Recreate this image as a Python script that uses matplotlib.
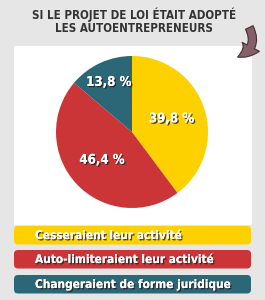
import matplotlib
matplotlib.use("Agg")
import matplotlib.pyplot as plt
import matplotlib.patheffects as pe
from matplotlib.patches import FancyBboxPatch, Rectangle, FancyArrowPatch
import numpy as np

# --- données ---
titre = ["SI LE PROJET DE LOI ÉTAIT ADOPTÉ", "LES AUTOENTREPRENEURS"]
categories = ["Cesseraient leur activité",
              "Auto-limiteraient leur activité",
              "Changeraient de forme juridique"]
valeurs = [39.8, 46.4, 13.8]
etiquettes = ["39,8 %", "46,4 %", "13,8 %"]
couleurs = ["#FDD000", "#CC3538", "#2B6777"]

police = dict(family="DejaVu Sans", stretch="condensed", fontweight="bold")

W, H = 265, 300
fig = plt.figure(figsize=(W / 100, H / 100), dpi=100)
fig.patch.set_facecolor("#E6E6E6")

# axe de fond en pixels (origine en haut à gauche)
bg = fig.add_axes([0, 0, 1, 1])
bg.set_xlim(0, W)
bg.set_ylim(H, 0)
bg.axis("off")

for i, ligne in enumerate(titre):
    bg.text(134, 15 + i * 13, ligne, ha="center", va="center",
            fontsize=8.3, color="#333333", **police)

# panneau blanc
bg.add_patch(Rectangle((14, 46), 238, 179, facecolor="white", edgecolor="none"))

# flèche courbe
fleche = FancyArrowPatch((248, 25), (235, 58), connectionstyle="arc3,rad=-0.6",
                         arrowstyle="simple,head_width=14,head_length=12,tail_width=6",
                         facecolor="#84606A", edgecolor="#4A2E30", linewidth=0.8)
bg.add_patch(fleche)

# légende en boîtes arrondies
ombre = [pe.withSimplePatchShadow(offset=(1, -1), shadow_rgbFace="#222222", alpha=0.8),
         pe.Normal()]
tops = [226, 250, 275]
for top, cat, col in zip(tops, categories, couleurs):
    bg.add_patch(FancyBboxPatch((14, top), 237, 18.5,
                                boxstyle="round,pad=0,rounding_size=4",
                                facecolor=col, edgecolor="none"))
    bg.text(35, top + 9.5, cat, ha="left", va="center", fontsize=8.5,
            color="white", path_effects=ombre, **police)

# camembert
cx, cy, r = 132, 132, 76
ax = fig.add_axes([(cx - r) / W, 1 - (cy + r) / H, 2 * r / W, 2 * r / H])
wedges, _ = ax.pie(valeurs, colors=couleurs, startangle=90, counterclock=False,
                   radius=1, wedgeprops=dict(linewidth=0))
ax.set_xlim(-1, 1)
ax.set_ylim(-1, 1)
ax.set_aspect("auto")

distances = [0.55, 0.54, 0.72]
for w, lab, d in zip(wedges, etiquettes, distances):
    ang = np.deg2rad((w.theta1 + w.theta2) / 2)
    ax.text(d * np.cos(ang), d * np.sin(ang), lab, ha="center", va="center",
            fontsize=9.5, color="white", path_effects=ombre, **police)

fig.savefig("out.png", dpi=100, facecolor=fig.get_facecolor())
